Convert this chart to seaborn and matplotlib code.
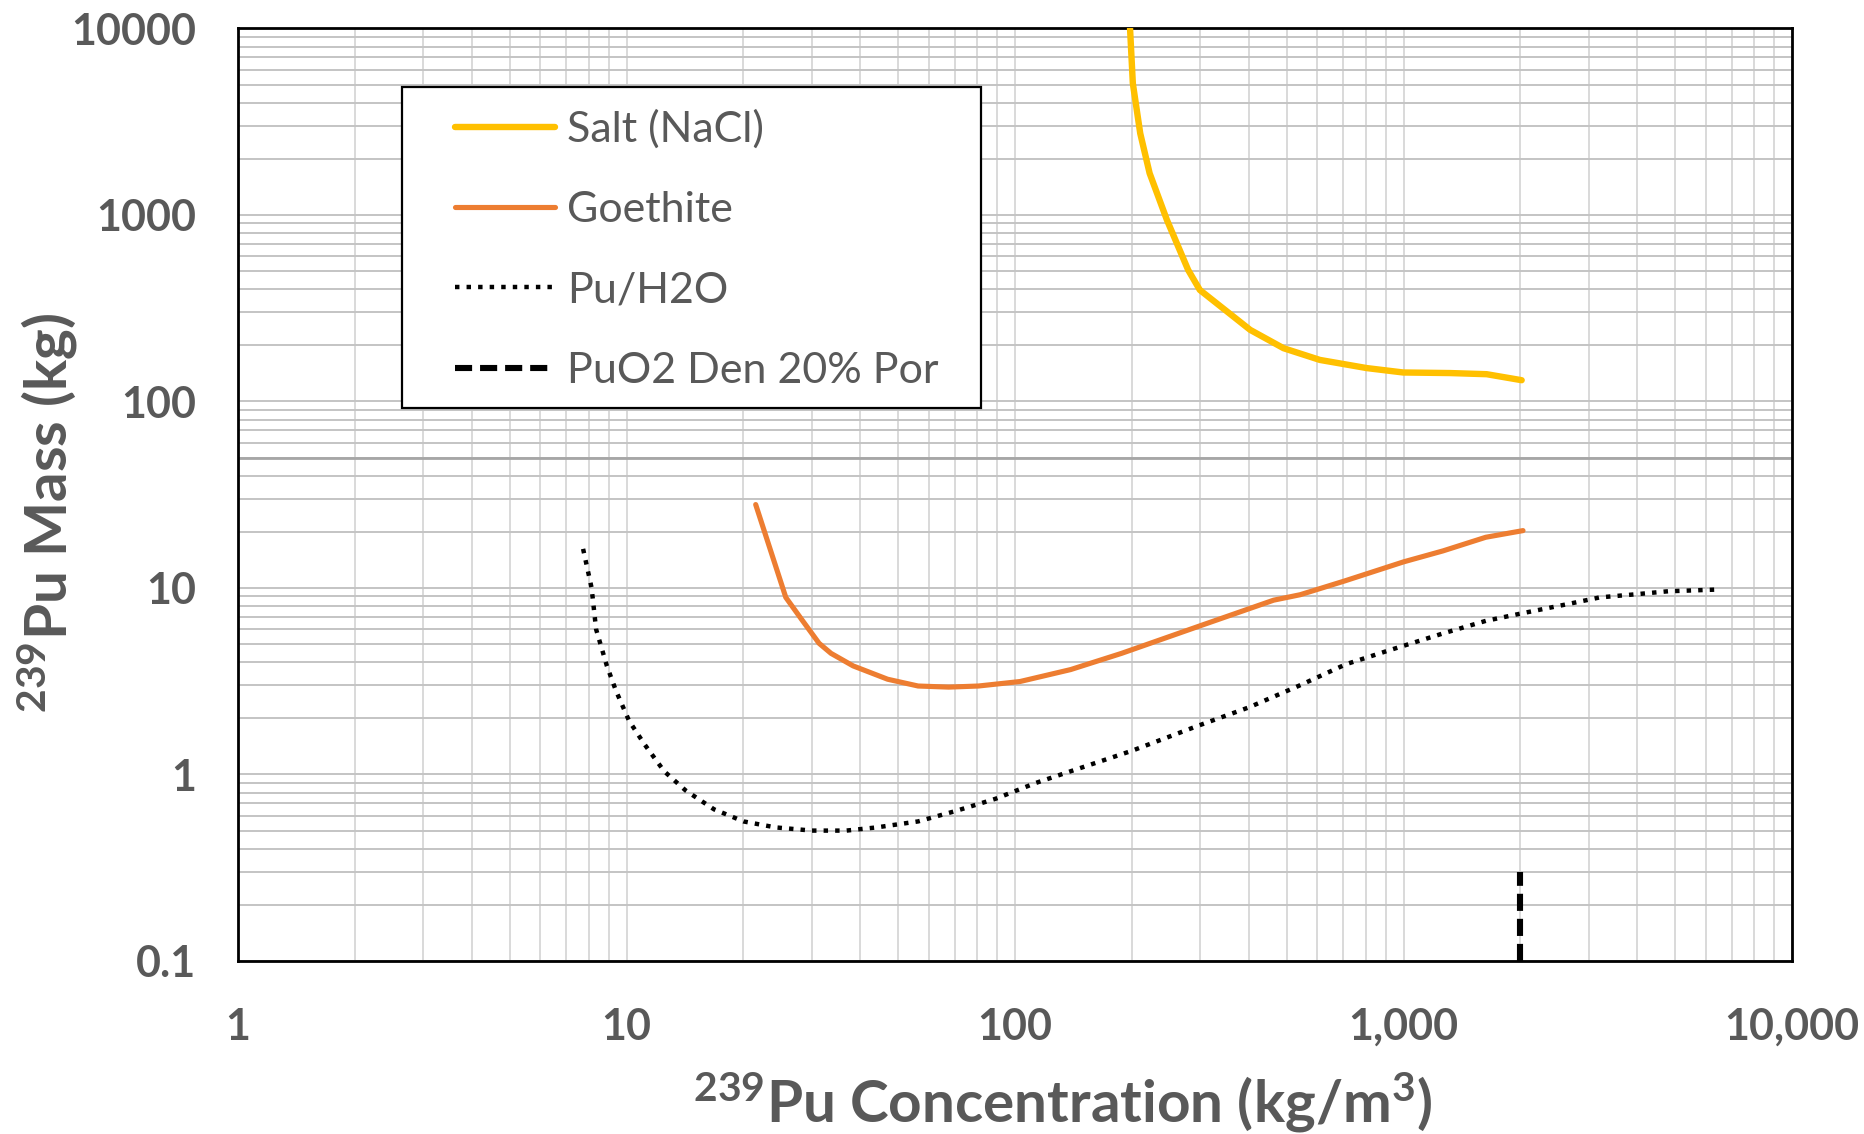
import numpy as np
import matplotlib
matplotlib.use('Agg')
import matplotlib.pyplot as plt
from matplotlib.ticker import FixedLocator, LogLocator, NullFormatter
from matplotlib.patches import Rectangle
import seaborn as sns

# values (kg/m3 , kg)
salt_conc = [197.7, 201, 210, 222, 246, 279, 299, 365, 403, 491, 609, 804, 998, 1318, 1637, 2014]
salt_mass = [10000, 5080, 2740, 1675, 940, 507, 396, 285, 242, 193, 167, 151, 143, 142, 140, 130]

goe_conc = [21.5, 25.7, 28.2, 31.3, 33.6, 38.3, 47, 56.3, 67.5, 80.5, 103, 139, 188, 297, 463, 542, 705, 1000, 1263, 1628, 2030]
goe_mass = [28, 8.9, 6.8, 5.05, 4.46, 3.82, 3.24, 2.98, 2.94, 2.98, 3.15, 3.65, 4.46, 6.23, 8.6, 9.2, 10.9, 13.8, 15.8, 18.7, 20.3]

h2o_conc = [7.73, 8.13, 8.35, 8.9, 9.4, 10.15, 11.1, 12.5, 14.2, 16.8, 20, 24.2, 30, 36.8, 44, 56.3, 70, 89,
            113, 139, 200, 297, 400, 540, 711, 918, 1262, 1628, 2010, 2650, 3200, 3960, 4800, 6380]
h2o_mass = [16.2, 10, 6.0, 3.82, 2.8, 1.94, 1.46, 1.04, 0.82, 0.65, 0.56, 0.52, 0.5, 0.5, 0.52, 0.56, 0.635, 0.74,
            0.9, 1.04, 1.34, 1.83, 2.29, 3.0, 3.9, 4.63, 5.7, 6.66, 7.3, 8.2, 8.9, 9.25, 9.6, 9.8]

puo2_conc = [2000, 2000]
puo2_mass = [0.1, 0.3]

ref_mass = 50

x_ticks = [1, 10, 100, 1000, 10000]
x_labels = ['1', '10', '100', '1,000', '10,000']
y_ticks = [0.1, 1, 10, 100, 1000, 10000]
y_labels = ['0.1', '1', '10', '100', '1000', '10000']

sns.set_style('white')
plt.rcParams['font.family'] = ['Lato', 'DejaVu Sans']
plt.rcParams['mathtext.default'] = 'regular'
GREY = '#595959'

fig = plt.figure(figsize=(18.64, 11.34), dpi=100)
ax = fig.add_axes([0.1277, 0.1526, 0.8337, 0.8223])

# curves
sns.lineplot(x=salt_conc, y=salt_mass, ax=ax, color='#FFC000', linewidth=4.6,
             sort=False, estimator=None, label='Salt (NaCl)', zorder=3)
sns.lineplot(x=goe_conc, y=goe_mass, ax=ax, color='#ED7D31', linewidth=3.7,
             sort=False, estimator=None, label='Goethite', zorder=3)
sns.lineplot(x=h2o_conc, y=h2o_mass, ax=ax, color='black', linewidth=3.2,
             linestyle=(0, (1, 1.6)), sort=False, estimator=None, label='Pu/H2O', zorder=3)
sns.lineplot(x=puo2_conc, y=puo2_mass, ax=ax, color='black', linewidth=4.4,
             linestyle=(0, (2.8, 1.3)), sort=False, estimator=None, label='PuO2 Den 20% Por', zorder=3)
ax.axhline(ref_mass, color='#a6a6a6', linewidth=2, zorder=1)

ax.set_xscale('log')
ax.set_yscale('log')
ax.set_xlim(1, 10000)
ax.set_ylim(0.1, 10000)

ax.xaxis.set_major_locator(FixedLocator(x_ticks))
ax.set_xticklabels(x_labels, fontweight='bold')
ax.yaxis.set_major_locator(FixedLocator(y_ticks))
ax.set_yticklabels(y_labels, fontweight='bold')
for axis in (ax.xaxis, ax.yaxis):
    axis.set_minor_locator(LogLocator(base=10, subs=np.arange(2, 10), numticks=20))
    axis.set_minor_formatter(NullFormatter())

ax.tick_params(which='both', direction='in', color='black', width=2, top=False, right=False,
               labelcolor=GREY, labelsize=31)
ax.tick_params(which='major', length=15)
ax.tick_params(which='minor', length=10)
ax.tick_params(axis='x', pad=33)
ax.tick_params(axis='y', pad=30)

# grid
ax.set_axisbelow(True)
ax.grid(True, which='both', axis='y', color='#c4c4c4', linewidth=1.4)
ax.grid(True, which='both', axis='x', color='#d9d9d9', linewidth=1.4)
for s in ax.spines.values():
    s.set_color('black')
    s.set_linewidth(2)

# axis titles
ax.set_xlabel(r'$^{239}$Pu Concentration (kg/m$^{3}$)', fontsize=42, fontweight='bold', color=GREY)
ax.xaxis.set_label_coords(0.531, -0.152)
ax.xaxis.label.set_va('center')
ax.set_ylabel(r'$^{239}$Pu Mass (kg)', fontsize=42, fontweight='bold', color=GREY)
ax.yaxis.set_label_coords(-0.1226, 0.481)
ax.yaxis.label.set_va('center')

# legend with a separately drawn box
ax.add_patch(Rectangle((0.1055, 0.5927), 0.3725, 0.3441, transform=ax.transAxes,
                       facecolor='white', edgecolor='black', linewidth=1.6, zorder=5))
handles, labels = ax.get_legend_handles_labels()
leg = ax.legend(handles, labels, loc='upper left', bbox_to_anchor=(0.1396, 0.913),
                frameon=False, fontsize=31, labelcolor=GREY, borderpad=0, borderaxespad=0,
                handlelength=2.33, handletextpad=0.27, labelspacing=0.98)
leg.set_zorder(6)

plt.savefig('out.png', dpi=100)
